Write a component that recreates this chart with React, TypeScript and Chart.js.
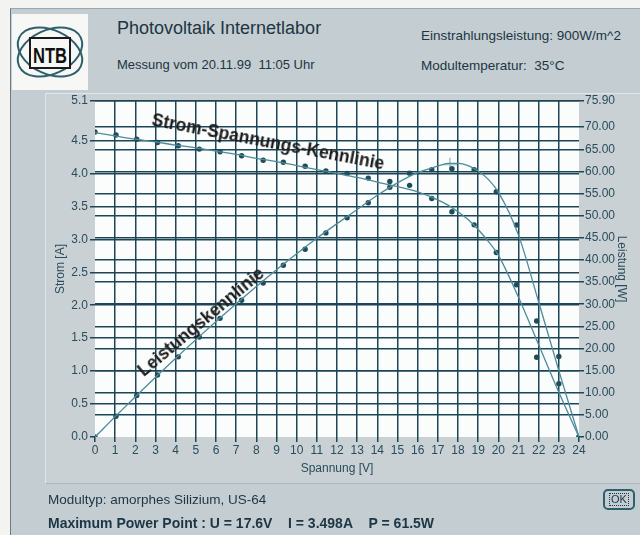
import React, { useEffect, useRef } from "react";
import { Chart, registerables } from "chart.js";
Chart.register(...registerables);

// ---- measured points (Spannung [V], Strom [A], Leistung [W]) ----
const voltagePoints = [0, 1.04, 2.07, 3.1, 4.13, 5.17, 6.2, 7.27, 8.34, 9.34, 10.42, 11.45, 12.5, 13.55, 14.62, 15.6, 16.7, 17.7, 18.8, 19.9, 20.9, 21.9, 23.0, 24.0];
const currentPoints = [4.63, 4.585, 4.52, 4.47, 4.42, 4.37, 4.33, 4.27, 4.2, 4.17, 4.11, 4.04, 4.0, 3.93, 3.88, 3.82, 3.62, 3.42, 3.22, 2.8, 2.31, 1.21, 0.81, 0.0];
const powerPoints = [0, 4.7, 9.4, 14.0, 18.1, 22.6, 26.8, 30.9, 34.8, 38.8, 42.4, 46.1, 49.5, 52.9, 56.4, 59.6, 60.4, 60.6, 60.4, 55.4, 47.9, 26.2, 18.2, 0];

// ---- fitted curves ----
const curveVoltages = [0, 1, 2, 3, 4, 5, 6, 7, 8, 9, 10, 11, 12, 13, 14, 15, 16, 17, 17.5, 18, 18.5, 19, 19.5, 20, 21, 22, 23, 24];
const currentCurve = [4.62, 4.57, 4.52, 4.48, 4.43, 4.39, 4.34, 4.29, 4.23, 4.18, 4.12, 4.06, 4.0, 3.94, 3.87, 3.8, 3.72, 3.6, 3.52, 3.42, 3.3, 3.15, 2.97, 2.76, 2.12, 1.4, 0.68, 0];
const powerCurve = [0, 4.6, 9.1, 13.5, 17.8, 22.0, 26.1, 30.1, 34.0, 37.8, 41.4, 44.9, 48.2, 51.4, 54.6, 57.4, 59.7, 61.2, 61.8, 61.8, 61.3, 60.1, 58.2, 55.3, 45.6, 30.5, 15.0, 0];

// ---- maximum power point ----
const mppVoltage = [17.6];
const mppPower = [61.5];

// ---- ticks ----
const xTicks = [0, 1, 2, 3, 4, 5, 6, 7, 8, 9, 10, 11, 12, 13, 14, 15, 16, 17, 18, 19, 20, 21, 22, 23, 24];
const leftTicks = [0, 0.5, 1.0, 1.5, 2.0, 2.5, 3.0, 3.5, 4.0, 4.5, 5.1];
const leftTickLabels = ["0.0", "0.5", "1.0", "1.5", "2.0", "2.5", "3.0", "3.5", "4.0", "4.5", "5.1"];
const rightTicks = [0, 5, 10, 15, 20, 25, 30, 35, 40, 45, 50, 55, 60, 65, 70, 75.9];
const rightTickLabels = ["0.00", "5.00", "10.00", "15.00", "20.00", "25.00", "30.00", "35.00", "40.00", "45.00", "50.00", "55.00", "60.00", "65.00", "70.00", "75.90"];

const GRID = "#1c4555";
const TICKTXT = "#2b4c5c";
const CURVE = "#4d8b9b";
const DOT = "#1f4c59";
const NARROW = '"Liberation Sans Narrow", "Arial Narrow", "Liberation Sans", Arial, sans-serif';
const SANS = '"Liberation Sans", Arial, sans-serif';

const plotBg = {
  id: "plotBg",
  beforeDraw(chart: any) {
    const { ctx, chartArea } = chart;
    if (!chartArea) return;
    ctx.save();
    ctx.fillStyle = "#fbfcfc";
    ctx.fillRect(chartArea.left, chartArea.top, chartArea.right - chartArea.left, chartArea.bottom - chartArea.top);
    ctx.restore();
  },
};

function ChartCanvas() {
  const ref = useRef<HTMLCanvasElement | null>(null);
  useEffect(() => {
    if (!ref.current) return;
    const pts = (xs: number[], ys: number[]) => xs.map((x, i) => ({ x, y: ys[i] }));
    const chart = new Chart(ref.current, {
      type: "scatter",
      data: {
        datasets: [
          {
            label: "Strom-Kurve",
            data: pts(curveVoltages, currentCurve),
            yAxisID: "yL",
            showLine: true,
            borderColor: CURVE,
            borderWidth: 1.3,
            pointRadius: 0,
            cubicInterpolationMode: "monotone",
          },
          {
            label: "Leistung-Kurve",
            data: pts(curveVoltages, powerCurve),
            yAxisID: "yR",
            showLine: true,
            borderColor: CURVE,
            borderWidth: 1.3,
            pointRadius: 0,
            cubicInterpolationMode: "monotone",
          },
          {
            label: "Strom",
            data: pts(voltagePoints, currentPoints),
            yAxisID: "yL",
            showLine: false,
            pointRadius: 2.7,
            pointBackgroundColor: DOT,
            pointBorderColor: DOT,
            pointBorderWidth: 0,
          },
          {
            label: "Leistung",
            data: pts(voltagePoints, powerPoints),
            yAxisID: "yR",
            showLine: false,
            pointRadius: 2.7,
            pointBackgroundColor: DOT,
            pointBorderColor: DOT,
            pointBorderWidth: 0,
          },
          {
            label: "MPP",
            data: pts(mppVoltage, mppPower),
            yAxisID: "yR",
            showLine: false,
            pointStyle: "cross",
            pointRadius: 7,
            pointBorderColor: "#8fb2bd",
            pointBorderWidth: 1.2,
          },
        ],
      },
      options: {
        animation: false,
        responsive: false,
        maintainAspectRatio: false,
        events: [],
        layout: { padding: { left: 40, right: 0, top: 101, bottom: 48 } },
        plugins: { legend: { display: false }, tooltip: { enabled: false } },
        scales: {
          x: {
            type: "linear",
            position: "bottom",
            min: 0,
            max: 24,
            afterBuildTicks: (s: any) => {
              s.ticks = xTicks.map((v) => ({ value: v }));
            },
            afterFit: (s: any) => {
              s.height = 50;
            },
            ticks: {
              autoSkip: false,
              maxRotation: 0,
              color: TICKTXT,
              padding: 1,
              font: { family: SANS, size: 12 },
              callback: (v: any) => String(v),
            },
            grid: {
              color: (c: any) => (c.tick && (c.tick.value === 0 || c.tick.value === 24) ? "rgba(0,0,0,0)" : GRID),
              tickColor: GRID,
              lineWidth: 1.5,
              tickLength: 5,
            },
            border: { display: false },
            title: {
              display: true,
              text: "Spannung [V]",
              color: TICKTXT,
              font: { family: SANS, size: 12 },
              padding: { top: 0, bottom: 11 },
            },
          },
          yL: {
            type: "linear",
            position: "left",
            min: 0,
            max: 5.1,
            afterBuildTicks: (s: any) => {
              s.ticks = leftTicks.map((v) => ({ value: v }));
            },
            afterFit: (s: any) => {
              s.width = 55;
            },
            ticks: {
              autoSkip: false,
              color: TICKTXT,
              padding: 2,
              font: { family: SANS, size: 12 },
              callback: (v: any) => {
                const i = leftTicks.indexOf(v);
                return i >= 0 ? leftTickLabels[i] : "";
              },
            },
            grid: {
              color: (c: any) => (c.tick && c.tick.value === 0 ? "rgba(0,0,0,0)" : GRID),
              tickColor: GRID,
              lineWidth: 1.5,
              tickLength: 5,
            },
            border: { display: false },
            title: {
              display: true,
              text: "Strom [A]",
              color: TICKTXT,
              font: { family: SANS, size: 12 },
              padding: { top: 13, bottom: 0 },
            },
          },
          yR: {
            type: "linear",
            position: "right",
            min: 0,
            max: 75.9,
            afterBuildTicks: (s: any) => {
              s.ticks = rightTicks.map((v) => ({ value: v }));
            },
            afterFit: (s: any) => {
              s.width = 61;
            },
            ticks: {
              autoSkip: false,
              color: TICKTXT,
              padding: 1,
              font: { family: SANS, size: 12 },
              callback: (v: any) => {
                const i = rightTicks.indexOf(v);
                return i >= 0 ? rightTickLabels[i] : "";
              },
            },
            grid: {
              color: (c: any) => (c.tick && c.tick.value === 0 ? "rgba(0,0,0,0)" : GRID),
              tickColor: GRID,
              lineWidth: 1.5,
              tickLength: 5,
            },
            border: { display: false },
            title: {
              display: true,
              text: "Leistung [W]",
              color: TICKTXT,
              font: { family: SANS, size: 12 },
              padding: { top: 11, bottom: 0 },
            },
          },
        },
      } as any,
      plugins: [plotBg],
    });
    return () => chart.destroy();
  }, []);
  return <canvas ref={ref} width={640} height={535} style={{ position: "absolute", left: 0, top: 0, width: 640, height: 535 }} />;
}

function Logo() {
  return (
    <svg width={76} height={76} viewBox="0 0 76 76" style={{ position: "absolute", left: 12, top: 14, background: "#f7f8f6" }}>
      <ellipse cx={38} cy={38} rx={34} ry={22} fill="none" stroke="#2f5f6b" strokeWidth={2} transform="rotate(25 38 38)" />
      <ellipse cx={38} cy={38} rx={34} ry={22} fill="none" stroke="#2f5f6b" strokeWidth={2} transform="rotate(-25 38 38)" />
      <rect x={18} y={24} width={40} height={30} fill="#f7f8f6" stroke="#1a1a1a" strokeWidth={2} />
      <text x={38} y={49} textAnchor="middle" fontFamily={SANS} fontWeight="bold" fontSize={22} fill="#111" textLength={34} lengthAdjust="spacingAndGlyphs">NTB</text>
    </svg>
  );
}

export default function App() {
  const txt = (style: React.CSSProperties): React.CSSProperties => ({ position: "absolute", whiteSpace: "nowrap", color: "#1d3544", ...style });
  return (
    <div style={{ position: "absolute", left: 0, top: 0, width: 640, height: 535, overflow: "hidden", background: "#f3f4f2" }}>
      {/* window */}
      <div style={{ position: "absolute", left: 10, top: 8, width: 640, height: 540, background: "#c4cdd1", borderLeft: "1px solid #6d7c82", borderTop: "1px solid #9aa7ac" }} />
      {/* chart panel */}
      <div style={{ position: "absolute", left: 45, top: 93, width: 600, height: 389, background: "#c9d1d5", borderTop: "1px solid #e2e8ea", borderLeft: "1px solid #e2e8ea", borderBottom: "1px solid #a9b6bb" }} />
      <Logo />
      <div style={txt({ left: 117, top: 18, fontFamily: SANS, fontSize: 18 })}>Photovoltaik Internetlabor</div>
      <div style={txt({ left: 117, top: 57, fontFamily: SANS, fontSize: 13 })}>Messung vom 20.11.99&nbsp; 11:05 Uhr</div>
      <div style={txt({ left: 421, top: 28, fontFamily: SANS, fontSize: 13.5 })}>Einstrahlungsleistung: 900W/m^2</div>
      <div style={txt({ left: 421, top: 58, fontFamily: SANS, fontSize: 13.5 })}>Modultemperatur:&nbsp; 35°C</div>
      <ChartCanvas />
      <div style={txt({ left: 268, top: 142, transform: "translate(-50%,-50%) rotate(10.8deg)", fontFamily: SANS, fontWeight: "bold", fontSize: 17.5, color: "#1c1c1c" })}>Strom-Spannungs-Kennlinie</div>
      <div style={txt({ left: 201, top: 322, transform: "translate(-50%,-50%) rotate(-40deg)", fontFamily: SANS, fontWeight: "bold", fontSize: 17.5, color: "#1c1c1c" })}>Leistungskennlinie</div>
      <div style={txt({ left: 48, top: 492, fontFamily: SANS, fontSize: 13.5 })}>Modultyp: amorphes Silizium, US-64</div>
      <div style={txt({ left: 48, top: 515, fontFamily: SANS, fontWeight: "bold", fontSize: 14 })}>Maximum Power Point : U = 17.6V&nbsp;&nbsp;&nbsp; I = 3.498A&nbsp;&nbsp;&nbsp; P = 61.5W</div>
      <div style={{ position: "absolute", left: 603, top: 489, width: 32, height: 21, border: "2px solid #2f5f6b", borderRadius: 5, boxSizing: "border-box", display: "flex", alignItems: "center", justifyContent: "center" }}>
        <span style={{ fontFamily: SANS, fontSize: 11, color: "#1d3544", border: "1px dotted #1d3544", padding: "0 1px", lineHeight: "11px" }}>OK</span>
      </div>
    </div>
  );
}
